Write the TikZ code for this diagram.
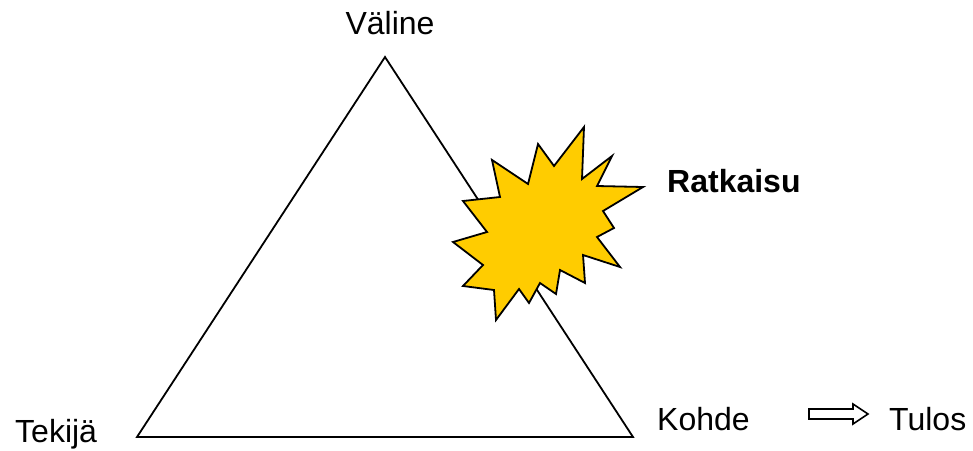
\documentclass[tikz,border=0pt]{standalone}
\usepackage{fontspec}
\setmainfont{Liberation Sans}
\usetikzlibrary{positioning,calc}
\definecolor{burst}{RGB}{255,204,0}
\tikzset{
  edge/.style={draw=black, line width=1.8pt, line join=miter},
  star/.style={draw=black, fill=burst, line width=1.8pt, line join=miter},
  word/.style={font=\fontsize{32}{38}\selectfont, inner sep=0pt},
  hollow/.style={draw=black, fill=white, line width=1.6pt, line join=miter}
}
\begin{document}
\begin{tikzpicture}[x=1pt,y=-1pt]
  \useasboundingbox (0,0) rectangle (973,450);
  % corners of the triangle
  \coordinate (top) at (385,57);
  \coordinate (left) at (137,437);
  \coordinate (right) at (633,437);
  \draw[edge] (top) -- (left) -- (right) -- cycle;
  % the burst
  \draw[star] (584,127) -- (582,179) -- (612,156) -- (597,186) -- (643,187)
    -- (603,211) -- (614,228) -- (597,237) -- (620,267) -- (583,255)
    -- (585,283) -- (560,270) -- (556,294) -- (540,283) -- (529,303)
    -- (519,289) -- (496,320) -- (494,290) -- (463,286) -- (483,265)
    -- (453,242) -- (487,232) -- (463,201) -- (500,197) -- (492,160)
    -- (528,184) -- (538,144) -- (554,166) -- cycle;
  % labels
  \node[word, anchor=base] (valine) at (390,34) {Väline};
  \node[word, anchor=base west] (tekija) at (15,442) {Tekijä};
  \node[word, anchor=base west] (kohde) at (657,430) {Kohde};
  \node[word, anchor=base west] (tulos) at (889,430) {Tulos};
  \node[word, anchor=base west, font=\fontsize{32}{38}\selectfont\bfseries] (ratkaisu) at (667,192) {Ratkaisu};
  % hollow arrow
  \coordinate (a0) at (809,414);
  \draw[hollow] ($(a0)+(0,-5)$) -- ++(44,0) -- ++(0,-5) -- (868,414)
    -- ($(a0)+(44,10)$) -- ++(0,-5) -- ++(-44,0) -- cycle;
\end{tikzpicture}
\end{document}
